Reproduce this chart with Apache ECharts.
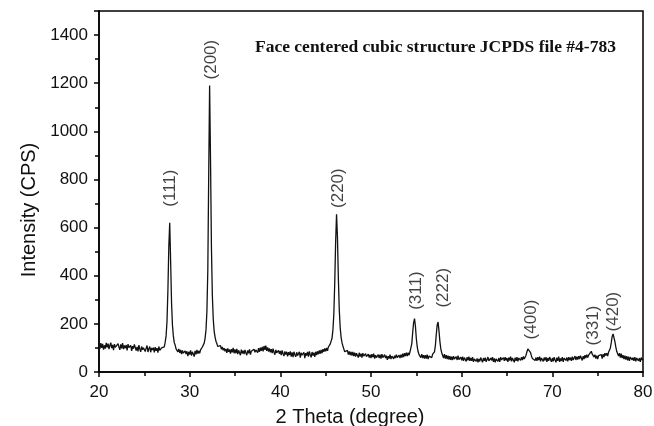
<!DOCTYPE html>
<html>
<head>
<meta charset="utf-8">
<script src="https://cdn.jsdelivr.net/npm/echarts@6/dist/echarts.min.js"></script>
<style>
  html, body { margin: 0; padding: 0; background: #fff; }
  #chart { width: 654px; height: 426px; }
</style>
</head>
<body>
<div id="chart"></div>
<script>
// 2 theta grid: starts at 20 deg, one reading every 0.1 deg
var thetaStart = 20
var thetaStep = 0.1

// intensity (CPS), one row per degree (10 readings each)
var intensity = [
  114, 96, 120, 100, 117, 93, 111, 97, 121, 102,     // 20
  118, 95, 110, 122, 99, 113, 91, 116, 102, 109,     // 21
  96, 118, 104, 92, 115, 98, 120, 95, 110, 99,       // 22
  112, 90, 116, 101, 93, 111, 88, 107, 97, 115,      // 23
  108, 89, 104, 86, 112, 95, 84, 106, 92, 101,       // 24
  104, 85, 99, 110, 83, 97, 106, 82, 100, 91,        // 25
  101, 82, 103, 88, 99, 80, 106, 90, 84, 100,        // 26
  92, 108, 104, 124, 150, 210, 340, 520, 620, 460,   // 27
  290, 195, 150, 122, 112, 96, 104, 84, 96, 80,      // 28
  92, 74, 90, 78, 70, 88, 75, 86, 66, 84,            // 29
  72, 90, 68, 84, 75, 64, 88, 73, 92, 76,            // 30
  88, 78, 92, 84, 104, 98, 120, 140, 175, 250,       // 31
  420, 820, 1190, 880, 520, 320, 220, 170, 145, 128, // 32
  118, 106, 112, 100, 110, 94, 104, 90, 99, 86,      // 33
  96, 80, 98, 84, 93, 76, 95, 82, 100, 78,           // 34
  94, 78, 96, 74, 90, 82, 70, 93, 77, 89,            // 35
  74, 92, 80, 70, 90, 78, 94, 72, 86, 91,            // 36
  78, 95, 82, 92, 97, 80, 99, 84, 101, 88,           // 37
  104, 86, 108, 92, 110, 88, 102, 85, 98, 82,        // 38
  95, 78, 97, 82, 72, 92, 80, 73, 90, 76,            // 39
  88, 70, 90, 76, 66, 86, 72, 84, 65, 82,            // 40
  70, 86, 64, 82, 62, 84, 72, 63, 82, 68,            // 41
  66, 84, 60, 80, 70, 62, 82, 58, 78, 68,            // 42
  84, 64, 86, 72, 61, 83, 68, 80, 63, 84,            // 43
  70, 86, 74, 90, 76, 92, 78, 95, 84, 98,            // 44
  86, 100, 88, 104, 100, 116, 122, 140, 175, 240,    // 45
  370, 540, 655, 560, 390, 260, 185, 145, 122, 108,  // 46
  96, 84, 92, 76, 90, 72, 86, 70, 84, 68,            // 47
  84, 66, 80, 64, 78, 70, 60, 80, 64, 76,            // 48
  60, 78, 66, 58, 76, 64, 56, 74, 60, 72,            // 49
  58, 74, 62, 76, 56, 70, 60, 52, 72, 58,            // 50
  72, 56, 74, 60, 52, 72, 58, 68, 50, 66,            // 51
  56, 72, 54, 66, 74, 55, 68, 58, 72, 60,            // 52
  54, 70, 58, 72, 60, 76, 62, 78, 66, 80,            // 53
  66, 80, 70, 84, 92, 118, 165, 205, 222, 190,       // 54
  138, 104, 84, 72, 78, 60, 74, 58, 70, 56,          // 55
  70, 56, 72, 54, 66, 58, 70, 60, 74, 78,            // 56
  84, 110, 156, 196, 208, 170, 126, 96, 80, 72,      // 57
  58, 74, 56, 70, 54, 68, 52, 66, 50, 64,            // 58
  50, 66, 54, 48, 64, 50, 68, 52, 46, 62,            // 59
  48, 64, 46, 60, 52, 44, 62, 48, 64, 46,            // 60
  58, 46, 62, 42, 54, 60, 44, 56, 40, 54,            // 61
  44, 60, 50, 40, 58, 46, 60, 42, 52, 62,            // 62
  46, 40, 58, 48, 62, 42, 56, 40, 54, 60,            // 63
  44, 58, 42, 62, 50, 44, 60, 46, 62, 48,            // 64
  58, 42, 60, 48, 64, 44, 58, 50, 40, 60,            // 65
  46, 62, 44, 58, 64, 48, 62, 50, 64, 54,            // 66
  62, 70, 84, 96, 102, 92, 80, 66, 56, 50,           // 67
  64, 48, 60, 46, 62, 50, 64, 44, 58, 50,            // 68
  44, 60, 48, 62, 42, 58, 46, 62, 52, 42,            // 69
  58, 44, 62, 50, 40, 60, 46, 64, 42, 56,            // 70
  46, 62, 42, 58, 64, 48, 60, 44, 62, 50,            // 71
  60, 46, 64, 50, 58, 66, 50, 64, 52, 66,            // 72
  54, 68, 58, 48, 66, 54, 70, 58, 72, 60,            // 73
  70, 64, 78, 86, 74, 80, 62, 72, 56, 68,            // 74
  54, 68, 74, 60, 72, 56, 74, 62, 78, 68,            // 75
  78, 66, 82, 88, 100, 122, 148, 158, 150, 126,      // 76
  104, 86, 78, 66, 78, 60, 76, 58, 70, 54,           // 77
  68, 52, 66, 48, 64, 46, 62, 68, 50, 60,            // 78
  46, 62, 44, 58, 66, 46, 58, 42, 60, 50,            // 79
  55                                                 // 80
]

// Miller indices and the centre of each rotated label (data coords)
var hklLabels = ['(111)', '(200)', '(220)', '(311)', '(222)', '(400)', '(331)', '(420)']
var hklX = [27.83, 32.35, 46.36, 54.96, 57.94, 67.65, 74.48, 76.69]
var hklY = [764, 1298, 764, 338, 350, 218, 193, 251]

var xTicks = [20, 30, 40, 50, 60, 70, 80]

var pattern = intensity.map(function(v, i) {
  return [Math.round((thetaStart + i * thetaStep) * 10) / 10, v]
})
var labelPts = hklLabels.map(function(t, i) {
  return { value: [hklX[i], hklY[i]], name: t }
})

var axisFont = { fontFamily: 'Liberation Sans', fontSize: 17, color: '#111' }

var chart = echarts.init(document.getElementById('chart'))
chart.setOption({
  animation: false,
  backgroundColor: '#fff',
  grid: {
    left: 99, right: 11, top: 11, bottom: 54,
    outerBoundsMode: 'none',
    show: true, borderColor: '#000', borderWidth: 1.5
  },
  xAxis: {
    type: 'value',
    min: xTicks[0], max: xTicks[xTicks.length - 1], interval: 10,
    name: '2 Theta (degree)',
    nameLocation: 'middle',
    nameGap: 35,
    nameTextStyle: { fontFamily: 'Liberation Sans', fontSize: 20, color: '#111', padding: [0, 42, 0, 0] },
    axisLine: { lineStyle: { color: '#000', width: 1.5 } },
    axisTick: { inside: false, length: 5, lineStyle: { color: '#000', width: 1.5 } },
    minorTick: { show: true, splitNumber: 2, length: 4, lineStyle: { color: '#000', width: 1.5 } },
    axisLabel: Object.assign({ margin: 12 }, axisFont),
    splitLine: { show: false }
  },
  yAxis: {
    type: 'value',
    min: 0, max: 1500, interval: 200,
    name: 'Intensity (CPS)',
    nameLocation: 'middle',
    nameGap: 60,
    nameTextStyle: { fontFamily: 'Liberation Sans', fontSize: 20, color: '#111', padding: [0, 37, 0, 0] },
    axisLine: { show: true, lineStyle: { color: '#000', width: 1.5 } },
    axisTick: { show: true, inside: false, length: 5, lineStyle: { color: '#000', width: 1.5 } },
    minorTick: { show: true, splitNumber: 2, length: 4, lineStyle: { color: '#000', width: 1.5 } },
    axisLabel: Object.assign({
      margin: 11,
      showMaxLabel: false,
      formatter: function(v) { return String(v) }
    }, axisFont),
    splitLine: { show: false }
  },
  graphic: [{
    type: 'text',
    left: 255, top: 38,
    style: {
      text: 'Face centered cubic structure JCPDS file #4-783',
      font: 'bold 17.5px "Liberation Serif"',
      fill: '#111'
    }
  }],
  series: [{
    type: 'line',
    data: pattern,
    showSymbol: false,
    lineStyle: { color: '#111', width: 1.3 }
  }, {
    type: 'scatter',
    data: labelPts,
    symbolSize: 0,
    label: {
      show: true,
      position: 'inside',
      rotate: 90,
      formatter: '{b}',
      fontFamily: 'Liberation Sans',
      fontSize: 17,
      color: '#111'
    }
  }]
})
</script>
</body>
</html>
